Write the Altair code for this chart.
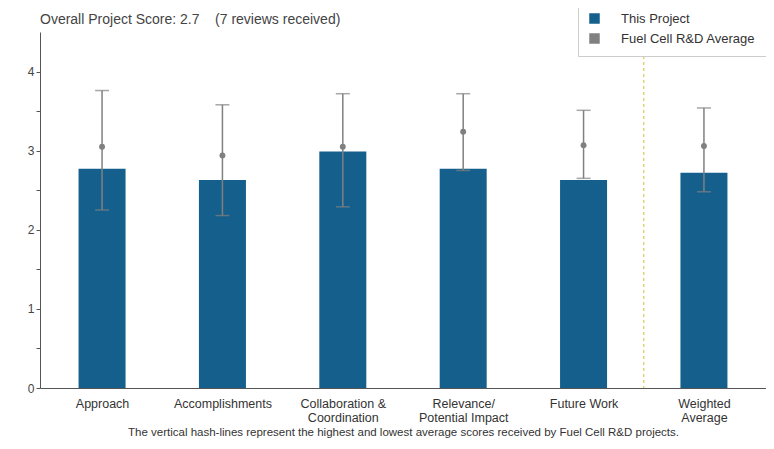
import altair as alt
import pandas as pd

categories = ["Approach", "Accomplishments", "Collaboration &|Coordination",
              "Relevance/|Potential Impact", "Future Work", "Weighted|Average"]
project_score = [2.77, 2.63, 2.99, 2.77, 2.63, 2.72]
fc_average = [3.05, 2.94, 3.05, 3.24, 3.07, 3.06]
fc_high = [3.76, 3.58, 3.72, 3.72, 3.51, 3.54]
fc_low = [2.25, 2.18, 2.29, 2.75, 2.65, 2.48]
series = ["This Project", "Fuel Cell R&D Average"]
separator_pos = [4.5]

df = pd.DataFrame({
    "idx": list(range(len(categories))),
    "cat": categories,
    "score": project_score,
    "avg": fc_average,
    "high": fc_high,
    "low": fc_low,
    "s_proj": [series[0]] * len(categories),
    "s_avg": [series[1]] * len(categories),
})
sep = pd.DataFrame({"pos": separator_pos})

BLUE = "#145f8b"
GREY = "#808080"
FONT = "Liberation Sans"

label_array = "[" + ",".join("'" + c + "'" for c in categories) + "]"
xscale = alt.Scale(domain=[-0.474, 5.474], nice=False, zero=False)
xaxis = alt.Axis(
    values=list(range(len(categories))),
    labelExpr="split(" + label_array + "[datum.value], '|')",
    ticks=False, grid=False, labelFontSize=12.5, labelColor="#333",
    labelLineHeight=14.5, labelPadding=9, domainColor="#555",
    title="The vertical hash-lines represent the highest and lowest average scores received by Fuel Cell R&D projects.",
    titleFontSize=11.5, titleFontWeight="normal", titleColor="#333", titlePadding=2,
)
x = alt.X("idx:Q", scale=xscale, axis=xaxis)
yscale = alt.Scale(domain=[0, 4.5], nice=False)
yaxis = alt.Axis(values=[0, 0.5, 1, 1.5, 2, 2.5, 3, 3.5, 4],
                 labelExpr="datum.value % 1 == 0 ? format(datum.value, 'd') : ''",
                 grid=False, title=None, tickSize=4, tickColor="#555",
                 labelColor="#444", labelFontSize=12, domainColor="#555")

color_scale = alt.Scale(domain=series, range=[BLUE, GREY])
legend = alt.Legend(title=None, orient="none", legendX=538, legendY=-30,
                    symbolType="square", symbolSize=110, labelFontSize=13,
                    labelColor="#333", strokeColor="#cccccc", fillColor="white",
                    padding=10, rowPadding=6, labelOffset=20, symbolStrokeWidth=0)

base = alt.Chart(df)

bars = base.mark_bar(size=47).encode(
    x=x,
    y=alt.Y("score:Q", scale=yscale, axis=yaxis),
    color=alt.Color("s_proj:N", scale=color_scale, legend=legend),
)

sep_rule = alt.Chart(sep).mark_rule(color="#d6cb55", strokeDash=[3, 3], strokeWidth=1.2).encode(
    x=alt.X("pos:Q", scale=xscale),
    y=alt.value(0), y2=alt.value(356),
)

err = base.mark_rule(color=GREY, strokeWidth=1.5).encode(
    x=alt.X("idx:Q", scale=xscale),
    y=alt.Y("low:Q", scale=yscale),
    y2="high:Q",
)
cap_hi = base.mark_tick(orient="horizontal", color=GREY, size=14, thickness=1.5).encode(
    x=alt.X("idx:Q", scale=xscale), y=alt.Y("high:Q", scale=yscale))
cap_lo = base.mark_tick(orient="horizontal", color=GREY, size=14, thickness=1.5).encode(
    x=alt.X("idx:Q", scale=xscale), y=alt.Y("low:Q", scale=yscale))
dots = base.mark_point(filled=True, size=35, opacity=1).encode(
    x=alt.X("idx:Q", scale=xscale),
    y=alt.Y("avg:Q", scale=yscale),
    color=alt.Color("s_avg:N", scale=color_scale, legend=legend),
)

title_text = "Overall Project Score: 2.7\u00a0\u00a0\u00a0\u00a0(7 reviews received)"

chart = alt.layer(sep_rule, bars, err, cap_hi, cap_lo, dots).properties(
    width=726, height=356,
    autosize=alt.AutoSizeParams(type="none"),
    padding={"left": 32, "top": 24, "right": 0, "bottom": 53},
    title=alt.TitleParams(title_text, frame="group",
                          anchor="start", fontSize=14, fontWeight="normal",
                          color="#444", baseline="bottom", offset=0, dy=39, font=FONT),
).configure(font=FONT).configure_view(stroke=None)

chart.save("out.html", embed_options={"renderer": "svg", "actions": False})
